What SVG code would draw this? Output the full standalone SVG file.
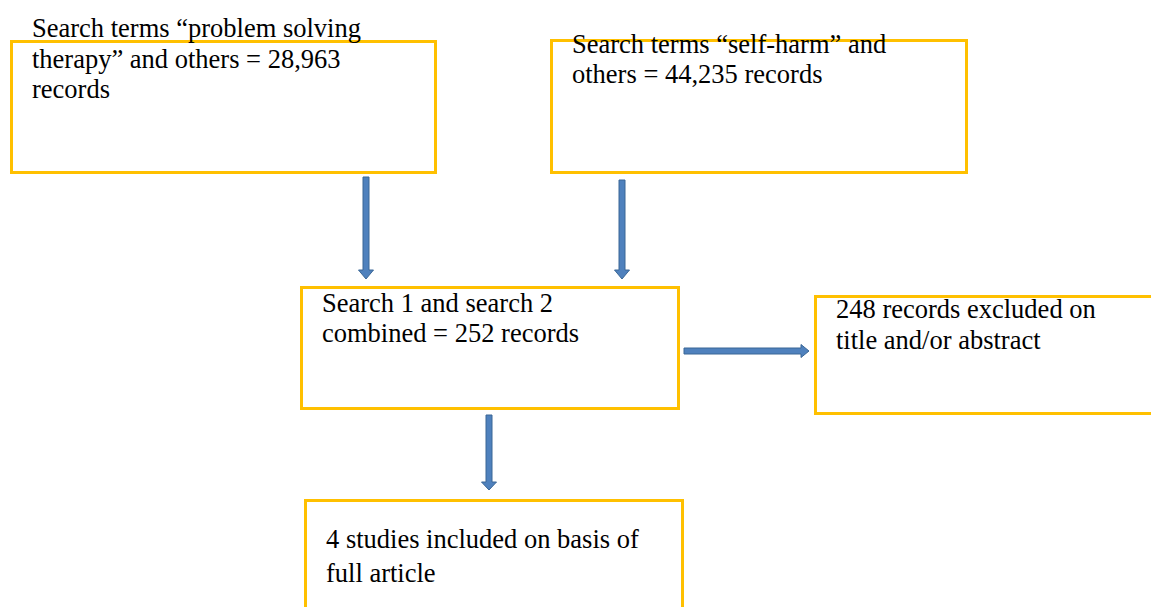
<svg xmlns="http://www.w3.org/2000/svg" width="1151" height="607" viewBox="0 0 1151 607">
<style>
.box{fill:#fff;stroke:#FFC000;stroke-width:3}
.t{font-family:"Liberation Serif","Times New Roman",serif;font-size:26.5px;fill:#000}
.arr{fill:#4F81BD;stroke:#3A6796;stroke-width:1}
</style>
<rect width="1151" height="607" fill="#fff"/>
<g id="n1"><rect class="box" x="11.5" y="41.5" width="424" height="131"/>
<text class="t" x="32" y="37">Search terms “problem solving</text>
<text class="t" x="32" y="67.5">therapy” and others = 28,963</text>
<text class="t" x="32" y="98">records</text></g>
<g id="n2"><rect class="box" x="551.5" y="40.5" width="415" height="132"/>
<text class="t" x="572" y="53">Search terms “self-harm” and</text>
<text class="t" x="572" y="83">others = 44,235 records</text></g>
<g id="n3"><rect class="box" x="301.5" y="287.5" width="377" height="121"/>
<text class="t" x="322" y="312">Search 1 and search 2</text>
<text class="t" x="322" y="342">combined = 252 records</text></g>
<g id="n4"><rect class="box" x="815.5" y="296.5" width="360" height="117"/>
<text class="t" x="836" y="318">248 records excluded on</text>
<text class="t" x="836" y="349">title and/or abstract</text></g>
<g id="n5"><rect class="box" x="305.5" y="500.5" width="377" height="130"/>
<text class="t" x="326" y="548">4 studies included on basis of</text>
<text class="t" x="326" y="582">full article</text></g>
<g id="connectors">
<polygon class="arr" points="363,177 369,177 369,270 373.5,270 366,279 358.5,270 363,270"/>
<polygon class="arr" points="619,180 625,180 625,270 629.5,270 622,279 614.5,270 619,270"/>
<polygon class="arr" points="684,348 801,348 801,344.5 809,351 801,357.5 801,354 684,354"/>
<polygon class="arr" points="486,415 492,415 492,482 496.5,482 489,490 481.5,482 486,482"/>
</g>
</svg>
